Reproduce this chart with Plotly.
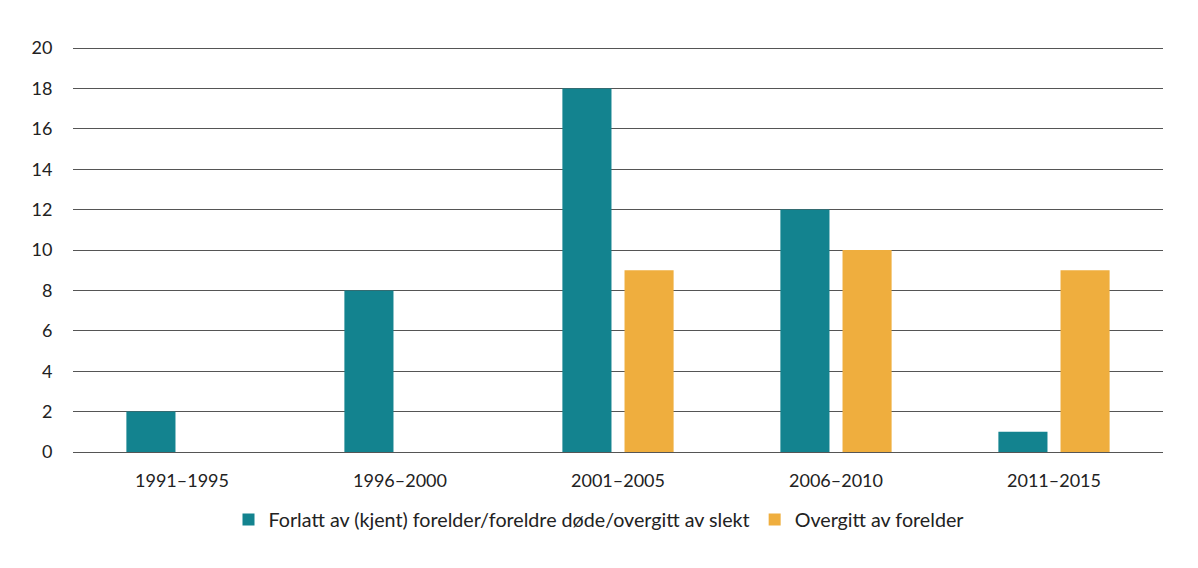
import plotly.graph_objects as go

categories = ["1991–1995", "1996–2000", "2001–2005", "2006–2010", "2011–2015"]
forlatt = [2, 8, 18, 12, 1]
overgitt = [0, 0, 9, 10, 9]
series_names = ["Forlatt av (kjent) forelder/foreldre døde/overgitt av slekt", "Overgitt av forelder"]
y_ticks = [0, 2, 4, 6, 8, 10, 12, 14, 16, 18, 20]

teal = "#13838F"
orange = "#EFAE3E"
font_family = "Lato, 'Open Sans', sans-serif"

fig = go.Figure()
fig.add_trace(go.Bar(x=categories, y=forlatt, name=series_names[0], marker=dict(color=teal, line=dict(width=0))))
fig.add_trace(go.Bar(x=categories, y=overgitt, name=series_names[1], marker=dict(color=orange, line=dict(width=0))))

fig.update_layout(
    width=1198, height=568,
    margin=dict(l=73, r=35, t=45, b=116, autoexpand=False),
    paper_bgcolor="white", plot_bgcolor="white",
    barmode="group", bargap=0.43, bargroupgap=0.21,
    font=dict(family=font_family, size=18, color="#222222"),
    showlegend=True,
    legend=dict(orientation="h", xref="container", x=0.5, xanchor="center",
                yref="container", y=0.085, yanchor="middle",
                font=dict(size=19.7, color="#222222"),
                traceorder="normal"),
    xaxis=dict(showgrid=False, ticks="outside", ticklen=12, tickcolor="rgba(0,0,0,0)",
               showline=False, tickfont=dict(size=18)),
    yaxis=dict(range=[0, 20.15], tickvals=y_ticks, showgrid=True, gridcolor="#555555", gridwidth=1,
               zeroline=True, zerolinecolor="#555555", zerolinewidth=1,
               ticks="outside", ticklen=16, tickcolor="rgba(0,0,0,0)", tickfont=dict(size=18)),
)

fig.write_html("out.html")
